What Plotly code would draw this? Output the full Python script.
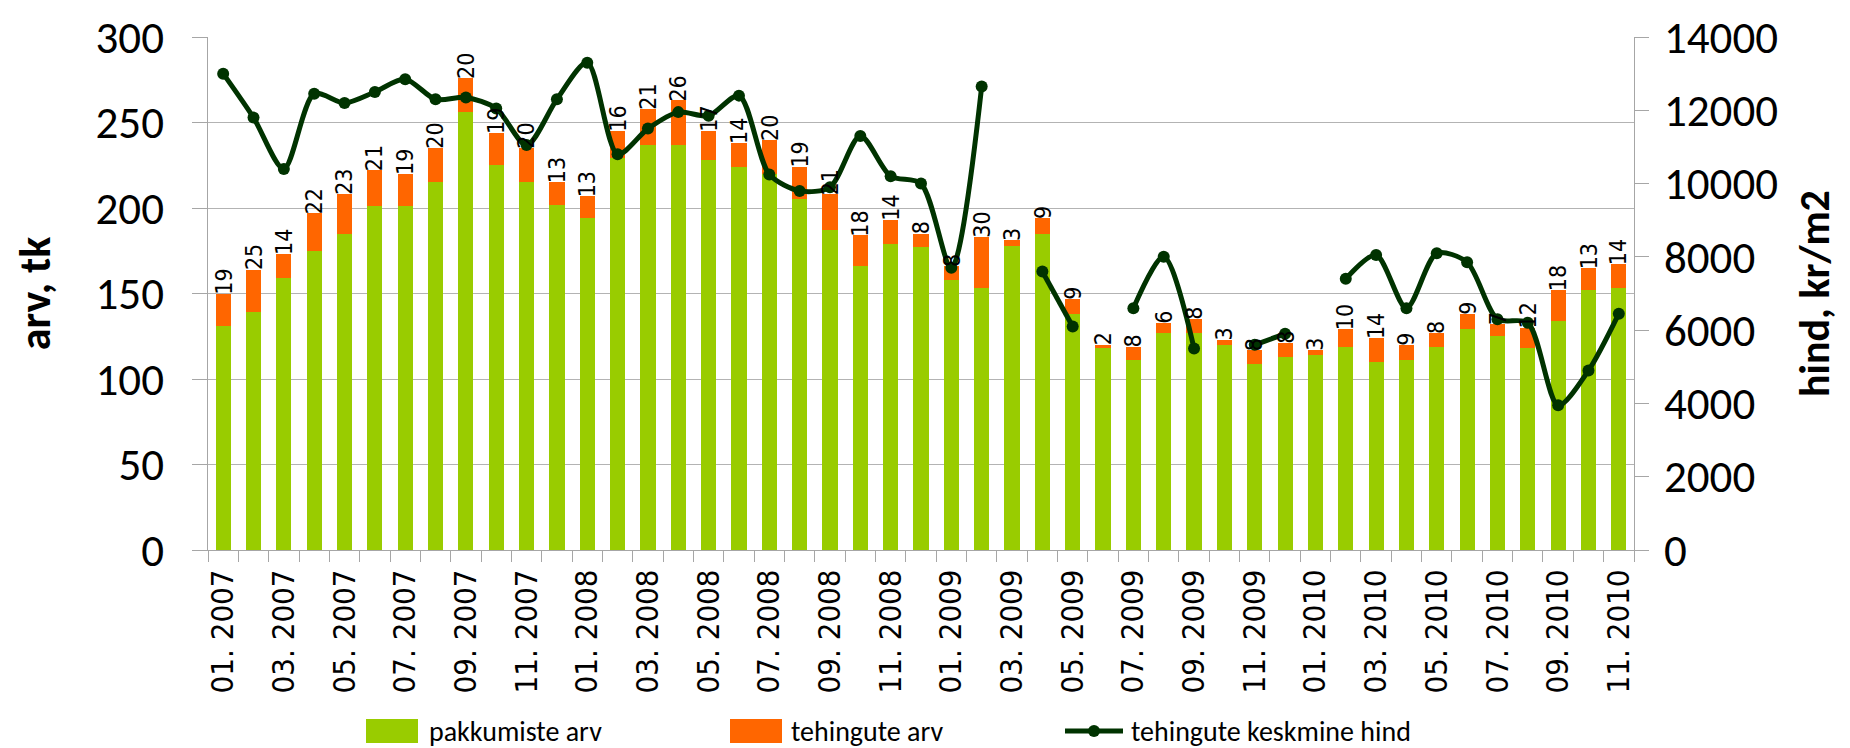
import plotly.graph_objects as go

months = ["01", "02", "03", "04", "05", "06", "07", "08", "09", "10", "11", "12"]
categories = [f"{m}. {y}" for y in (2007, 2008, 2009, 2010) for m in months][:47]

pakkumiste_arv = [131, 139, 159, 175, 185, 201, 201, 215, 256, 225, 215, 202,
                  194, 229, 237, 237, 228, 224, 220, 205, 187, 166, 179, 177,
                  158, 153, 178, 185, 138, 118, 111, 127, 127, 120, 109, 113,
                  114, 119, 110, 111, 119, 129, 125, 118, 134, 152, 153]
tehingute_arv = [19, 25, 14, 22, 23, 21, 19, 20, 20, 19, 20, 13,
                 13, 16, 21, 26, 17, 14, 20, 19, 21, 18, 14, 8,
                 8, 30, 3, 9, 9, 2, 8, 6, 8, 3, 8, 8,
                 3, 10, 14, 9, 8, 9, 7, 12, 18, 13, 14]
keskmine_hind = [13000, 11800, 10400, 12450, 12200, 12500, 12850, 12300, 12350, 12050, 11050, 12300,
                 13300, 10800, 11500, 11950, 11850, 12400, 10250, 9800, 9900, 11300, 10200, 10000,
                 7700, 12650, None, 7600, 6100, None, 6600, 8000, 5500, None, 5600, 5900,
                 None, 7400, 8050, 6600, 8100, 7850, 6300, 6200, 3950, 4900, 6450]
series_names = ["pakkumiste arv", "tehingute arv", "tehingute keskmine hind"]

GREEN = "#99cc00"
ORANGE = "#ff6600"
LINE = "#003300"
CAL = "Carlito, Lato, sans-serif"
COND = "DejaVu Sans Condensed, DejaVu Sans, sans-serif"

W, H = 1850, 748
ML, MR, MT, MB = 200, 224, 29, 206
PW, PH = W - ML - MR, H - MT - MB


def px(x):
    return (x - ML) / PW


def py(y):
    return (H - MB - y) / PH


fig = go.Figure()
fig.add_trace(go.Bar(x=categories, y=pakkumiste_arv, name=series_names[0], showlegend=False,
                     marker=dict(color=GREEN, line=dict(width=0))))
fig.add_trace(go.Bar(x=categories, y=tehingute_arv, name=series_names[1], showlegend=False,
                     marker=dict(color=ORANGE, line=dict(width=0))))
fig.add_trace(go.Scatter(x=categories, y=keskmine_hind, name=series_names[2], showlegend=False,
                         yaxis="y2", mode="lines+markers", connectgaps=False,
                         line=dict(color=LINE, width=5, shape="spline", smoothing=0.8),
                         marker=dict(color=LINE, size=12)))

totals = [a + b for a, b in zip(pakkumiste_arv, tehingute_arv)]
for c, t, lab in zip(categories, totals, tehingute_arv):
    fig.add_annotation(x=c, y=t, xref="x", yref="y", text=str(lab), showarrow=False,
                       textangle=-90, yanchor="bottom", xanchor="center", borderpad=0,
                       yshift=-2, font=dict(family=COND, size=23, color="black"))

# legend drawn below the plot (swatches + labels)
ly0, ly1, lyc = 711, 735, 723
fig.add_shape(type="rect", xref="paper", yref="paper", x0=px(358), x1=px(410), y0=py(ly1), y1=py(ly0),
              fillcolor=GREEN, line=dict(width=0))
fig.add_shape(type="rect", xref="paper", yref="paper", x0=px(722), x1=px(774), y0=py(ly1), y1=py(ly0),
              fillcolor=ORANGE, line=dict(width=0))
fig.add_shape(type="line", xref="paper", yref="paper", x0=px(1057), x1=px(1115), y0=py(lyc), y1=py(lyc),
              line=dict(color=LINE, width=5))
fig.add_shape(type="circle", xref="paper", yref="paper", x0=px(1080), x1=px(1092), y0=py(lyc + 6),
              y1=py(lyc - 6), fillcolor=LINE, line=dict(width=0))
for xpos, name in zip((420, 782, 1122), series_names):
    fig.add_annotation(x=px(xpos), y=py(lyc), xref="paper", yref="paper", text=name,
                       showarrow=False, xanchor="left", yanchor="middle", borderpad=0,
                       font=dict(family=CAL, size=28, color="black"))

fig.update_layout(
    width=W, height=H,
    margin=dict(l=ML, r=MR, t=MT, b=MB, autoexpand=False),
    paper_bgcolor="white", plot_bgcolor="white",
    barmode="stack", bargap=0.5,
    showlegend=False,
    xaxis=dict(type="category", tickson="boundaries", ticks="outside", ticklen=11,
               tickcolor="#a6a6a6", tickmode="linear", dtick=1, ticklabelstep=2, tickangle=-90,
               showline=True, linecolor="#a6a6a6", linewidth=1, showgrid=False,
               tickfont=dict(family=COND, size=31, color="black"), ticklabelstandoff=6,
               range=[-0.5, 46.5]),
    yaxis=dict(range=[0, 300], dtick=50, ticks="outside", ticklen=15, tickcolor="#a6a6a6",
               showline=True, linecolor="#a6a6a6", linewidth=1,
               showgrid=True, gridcolor="#b3b3b3", gridwidth=1, zeroline=False,
               tickfont=dict(family=CAL, size=45, color="black"), ticklabelstandoff=19,
               title=dict(text="<b>arv, tk</b>", standoff=40,
                          font=dict(family=CAL, size=44, color="black"))),
    yaxis2=dict(range=[0, 14000], dtick=2000, overlaying="y", side="right", tickformat="d",
                ticks="outside", ticklen=14, tickcolor="#a6a6a6",
                showline=True, linecolor="#a6a6a6", linewidth=1, showgrid=False, zeroline=False,
                tickfont=dict(family=CAL, size=45, color="black"), ticklabelstandoff=6,
                title=dict(text="<b>hind, kr/m2</b>", standoff=22,
                           font=dict(family=CAL, size=42, color="black"))),
)

fig.write_html("out.html")
